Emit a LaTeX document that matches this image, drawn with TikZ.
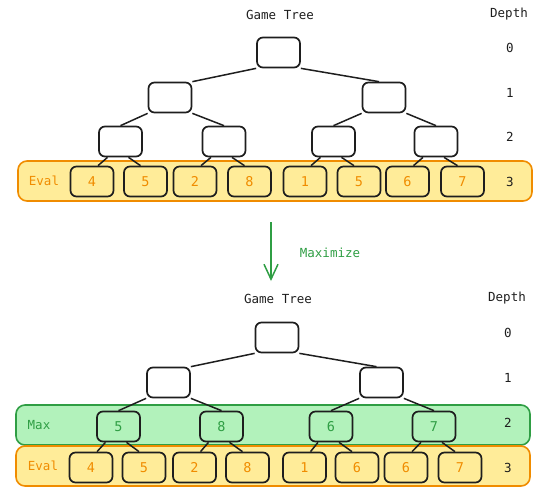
\documentclass[tikz,border=0pt]{standalone}
\usepackage{fontspec}
\setmainfont{DejaVu Sans Mono}
\usetikzlibrary{arrows.meta}
\definecolor{ink}{HTML}{1E1E1E}
\definecolor{evalfill}{HTML}{FFEC99}
\definecolor{evalline}{HTML}{F08C00}
\definecolor{maxfill}{HTML}{B2F2BB}
\definecolor{maxline}{HTML}{2F9E44}

\begin{document}
\begin{tikzpicture}[x=1pt,y=-1pt,
  txt/.style={font=\fontsize{12.5}{14}\selectfont, text=ink, inner sep=0},
  box/.style={draw=ink, line width=1.7pt, rounded corners=6pt,
    minimum width=43pt, minimum height=30pt, inner sep=0, fill=white,
    font=\fontsize{13.5}{15}\selectfont},
  leaf/.style={box, fill=evalfill, text=evalline},
  maxbox/.style={box, fill=maxfill, text=maxline},
  edge/.style={draw=ink, line width=1.5pt},
  evalband/.style={draw=evalline, fill=evalfill, line width=1.6pt, rounded corners=9pt},
  maxband/.style={draw=maxline, fill=maxfill, line width=1.6pt, rounded corners=9pt},
]
\useasboundingbox (0,0) rectangle (560,499);

% ---------- upper tree: evaluation only ----------
\draw[evalband] (18,161) rectangle (532,201);
\node[txt, text=evalline] (evalA) at (44,181) {Eval};

\node[txt] (titleA) at (280,15) {Game Tree};
\node[txt] (depthA) at (509,14) {Depth};
\node[txt] (dA0) at (510,48) {0};
\node[txt] (dA1) at (510,93) {1};
\node[txt] (dA2) at (510,137) {2};
\node[txt] (dA3) at (510,182) {3};

\node[box] (r)  at (278.5,52.5) {};
\node[box] (a1) at (170,97.5) {};
\node[box] (a2) at (384,97.5) {};
\node[box] (b1) at (120.5,141.5) {};
\node[box] (b2) at (224,141.5) {};
\node[box] (b3) at (333.5,141.5) {};
\node[box] (b4) at (436,141.5) {};
\node[leaf] (l1) at (92,181.5) {4};
\node[leaf] (l2) at (145.5,181.5) {5};
\node[leaf] (l3) at (195,181.5) {2};
\node[leaf] (l4) at (249.5,181.5) {8};
\node[leaf] (l5) at (305,181.5) {1};
\node[leaf] (l6) at (359,181.5) {5};
\node[leaf] (l7) at (407.5,181.5) {6};
\node[leaf] (l8) at (462.5,181.5) {7};

\draw[edge] (r.south west) -- (a1.north east);
\draw[edge] (r.south east) -- ([xshift=-5pt]a2.north);
\draw[edge] (a1.south west) -- (b1.north);
\draw[edge] (a1.south east) -- (b2.north);
\draw[edge] (a2.south west) -- (b3.north);
\draw[edge] (a2.south east) -- (b4.north);
\foreach \p/\u/\v in {b1/l1/l2, b2/l3/l4, b3/l5/l6, b4/l7/l8} {
  \draw[edge] ([xshift=-13pt]\p.south) -- ([xshift=6pt]\u.north);
  \draw[edge] ([xshift=8pt]\p.south) -- ([xshift=-5pt]\v.north);
}

% ---------- step between the two trees ----------
\coordinate (arrtop) at (271,222);
\coordinate (arrtip) at (271,281);
\draw[maxline, line width=1.5pt, -{Straight Barb[length=15pt,width=14pt]}] (arrtop) -- (arrtip);
\node[txt, text=maxline] (maxlabel) at (330,253) {Maximize};

% ---------- lower tree: maximised level 2 ----------
\draw[maxband]  (16,405) rectangle (530,445);
\draw[evalband] (16,446) rectangle (530,486);
\node[txt, text=maxline]  (maxB)  at (39,425) {Max};
\node[txt, text=evalline] (evalB) at (43,466) {Eval};

\node[txt] (titleB) at (278,299) {Game Tree};
\node[txt] (depthB) at (507,298) {Depth};
\node[txt] (dB0) at (508,333) {0};
\node[txt] (dB1) at (508,378) {1};
\node[txt] (dB2) at (508,423) {2};
\node[txt] (dB3) at (508,468) {3};

\node[box] (R)  at (277,337.5) {};
\node[box] (A1) at (168.5,382.5) {};
\node[box] (A2) at (381.5,382.5) {};
\node[maxbox] (B1) at (118.5,426.5) {5};
\node[maxbox] (B2) at (221.5,426.5) {8};
\node[maxbox] (B3) at (331,426.5) {6};
\node[maxbox] (B4) at (434,426.5) {7};
\node[leaf] (L1) at (91,467.5) {4};
\node[leaf] (L2) at (144,467.5) {5};
\node[leaf] (L3) at (194.5,467.5) {2};
\node[leaf] (L4) at (247.5,467.5) {8};
\node[leaf] (L5) at (304.5,467.5) {1};
\node[leaf] (L6) at (357,467.5) {6};
\node[leaf] (L7) at (406,467.5) {6};
\node[leaf] (L8) at (460,467.5) {7};

\draw[edge] (R.south west) -- (A1.north east);
\draw[edge] (R.south east) -- ([xshift=-5pt]A2.north);
\draw[edge] (A1.south west) -- (B1.north);
\draw[edge] (A1.south east) -- (B2.north);
\draw[edge] (A2.south west) -- (B3.north);
\draw[edge] (A2.south east) -- (B4.north);
\foreach \p/\u/\v in {B1/L1/L2, B2/L3/L4, B3/L5/L6, B4/L7/L8} {
  \draw[edge] ([xshift=-13pt]\p.south) -- ([xshift=6pt]\u.north);
  \draw[edge] ([xshift=8pt]\p.south) -- ([xshift=-5pt]\v.north);
}
\end{tikzpicture}
\end{document}
